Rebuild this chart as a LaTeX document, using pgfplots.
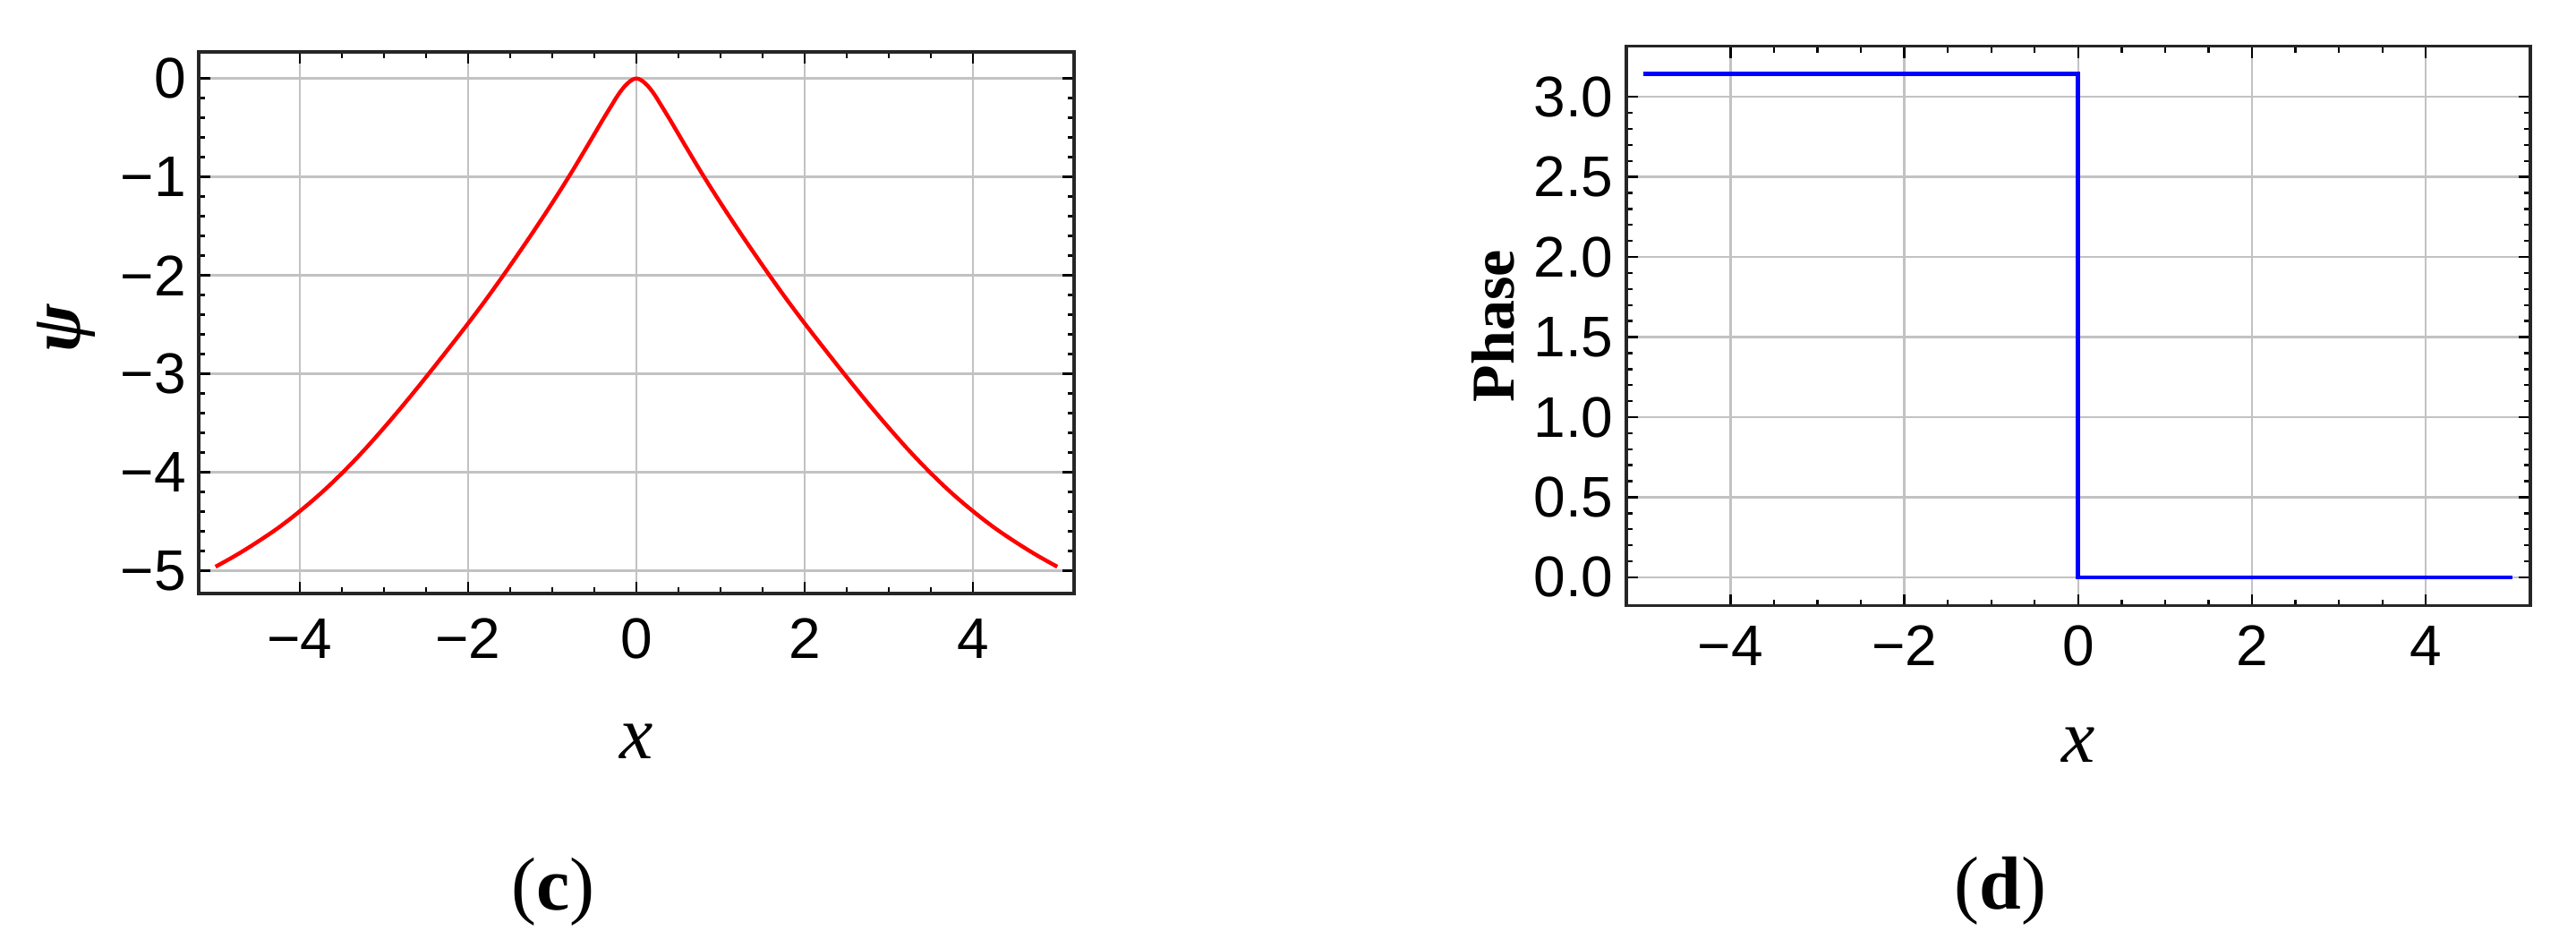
\documentclass[border=0pt]{standalone}
\usepackage{fontspec}
\setmainfont{Liberation Sans}
\newfontfamily\timesfont{Liberation Serif}
\usepackage{pgfplots}
\pgfplotsset{compat=1.18}

% Mathematica-like framed panel
\pgfplotsset{mma/.style={
    scale only axis,
    axis line style={black!85, line width=0.85pt},
    grid=major,
    major grid style={black!24, line width=0.6pt},
    tick style={black, line width=0.6pt},
    major tick length=3.25pt,
    minor tick length=1.75pt,
    tick align=inside,
    xtick pos=both, ytick pos=both,
    xticklabel pos=lower, yticklabel pos=left,
    ticklabel style={font=\fontsize{16}{16}\selectfont, inner sep=0pt},
    yticklabel style={anchor=east, xshift=-3.4pt},
    xmin=-5.2, xmax=5.2,
    xtick={-4,-2,0,2,4},
    xticklabels={−4,−2,0,2,4},
    minor x tick num=3,
    xlabel={\timesfont\itshape x},
    xlabel style={font=\fontsize{21}{21}\selectfont, at={(axis description cs:0.5,0)}, anchor=center},
}}

\begin{document}
\begin{tikzpicture}
\path[use as bounding box] (0,0) rectangle (719.5pt,264.75pt);

% (c) psi(x)
\begin{axis}[mma,
    at={(55.5pt,99pt)}, anchor=south west,
    width=244.5pt, height=151.25pt,
    ymin=-5.23, ymax=0.27,
    ytick={-5,-4,-3,-2,-1,0},
    yticklabels={−5,−4,−3,−2,−1,0},
    minor y tick num=4,
    xticklabel style={anchor=center, yshift=-12.5pt},
    xlabel style={yshift=-41.25pt},
    ylabel={\timesfont\bfseries\itshape ψ},
    ylabel style={font=\fontsize{20}{20}\selectfont,
        at={(axis description cs:-0.1513,0.489)}, anchor=center},
]
\addplot[red, line width=1.1pt, smooth, tension=0.6] coordinates {
    (-5.0,-4.958) (-4.75,-4.838) (-4.5,-4.705) (-4.25,-4.56) (-4.0,-4.395)
    (-3.75,-4.213) (-3.5,-4.01) (-3.25,-3.788) (-3.0,-3.548) (-2.75,-3.296)
    (-2.5,-3.033) (-2.25,-2.763) (-2.0,-2.488) (-1.8,-2.26) (-1.6,-2.022)
    (-1.4,-1.776) (-1.2,-1.524) (-1.0,-1.264) (-0.79,-0.98) (-0.6,-0.71)
    (-0.5,-0.565) (-0.4,-0.42) (-0.3,-0.28) (-0.2,-0.145) (-0.1,-0.045)
    (0,0)
    (0.1,-0.045) (0.2,-0.145) (0.3,-0.28) (0.4,-0.42) (0.5,-0.565)
    (0.6,-0.71) (0.79,-0.98) (1.0,-1.264) (1.2,-1.524) (1.4,-1.776)
    (1.6,-2.022) (1.8,-2.26) (2.0,-2.488) (2.25,-2.763) (2.5,-3.033)
    (2.75,-3.296) (3.0,-3.548) (3.25,-3.788) (3.5,-4.01) (3.75,-4.213)
    (4.0,-4.395) (4.25,-4.56) (4.5,-4.705) (4.75,-4.838) (5.0,-4.958)
};
\end{axis}

% (d) phase
\begin{axis}[mma,
    at={(454.2pt,95.6pt)}, anchor=south west,
    width=252.5pt, height=156.2pt,
    ymin=-0.177, ymax=3.315,
    ytick={0,0.5,1,1.5,2,2.5,3},
    yticklabels={0.0,0.5,1.0,1.5,2.0,2.5,3.0},
    minor y tick num=4,
    xticklabel style={anchor=center, yshift=-11.2pt},
    xlabel style={yshift=-39pt},
    ylabel={\timesfont\bfseries Phase},
    ylabel style={font=\fontsize{17}{17}\selectfont,
        at={(axis description cs:-0.1473,0.5)}, anchor=center},
]
\addplot[blue, line width=1.2pt] coordinates {
    (-5,3.14159) (0,3.14159) (0,0) (5,0)
};
\end{axis}

\node[inner sep=0pt] at (154.5pt,15.75pt) {\timesfont\fontsize{21}{21}\selectfont(\textbf{c})};
\node[inner sep=0pt] at (558.75pt,16pt) {\timesfont\fontsize{21}{21}\selectfont(\textbf{d})};
\end{tikzpicture}
\end{document}
